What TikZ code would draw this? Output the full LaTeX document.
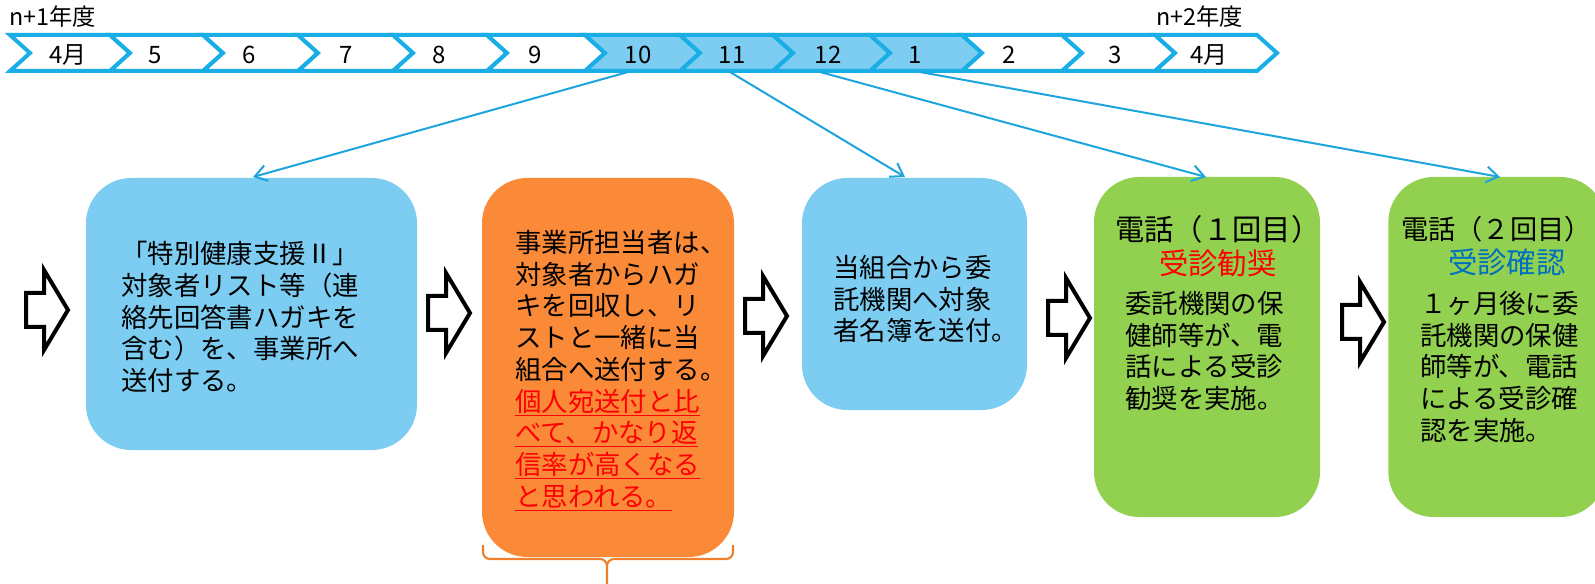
\documentclass[tikz,border=0pt]{standalone}
\usepackage{fontspec}
\setmainfont{Noto Sans CJK JP}
\usetikzlibrary{arrows.meta}
\definecolor{lineblue}{RGB}{25,175,230}
\definecolor{skyfill}{RGB}{124,205,241}
\definecolor{orangefill}{RGB}{250,138,55}
\definecolor{greenfill}{RGB}{146,208,80}
\definecolor{bracecol}{RGB}{238,128,45}
\definecolor{connblue}{RGB}{30,165,222}
\definecolor{textblue}{RGB}{0,112,192}
\newcommand\myblockarrow[2]{%
  \draw[blockarr] (#1,#2-17) -- (#1+18,#2-17) -- (#1+18,#2-40) -- (#1+42,#2)
    -- (#1+18,#2+40) -- (#1+18,#2+17) -- (#1,#2+17) -- cycle;}
\begin{document}
\begin{tikzpicture}[x=0.75pt,y=-0.75pt,
  chev/.style={draw=lineblue,line width=3pt,line join=miter},
  mon/.style={anchor=base,inner sep=0pt,font=\fontsize{18pt}{20pt}\selectfont},
  yearlbl/.style={anchor=base west,inner sep=0pt,font=\fontsize{17.5pt}{20pt}\selectfont},
  box/.style={rounded corners=34pt,inner sep=0pt,draw=none},
  body/.style={anchor=north west,inner sep=0pt,align=left,font=\fontsize{19.8pt}{23.8pt}\selectfont},
  title/.style={anchor=north west,inner sep=0pt,align=left,font=\fontsize{22pt}{25.5pt}\selectfont},
  blockarr/.style={draw=black,fill=white,line width=3pt,line join=miter},
  conn/.style={draw=connblue,line width=1.5pt,-{Straight Barb[length=9pt,width=12pt,line width=1.5pt]}},
  bracestyle/.style={draw=bracecol,line width=1.6pt}
]
\useasboundingbox (0,0) rectangle (1595,584);
\fill[white] (0,0) rectangle (1595,584);

% timeline chevrons
\foreach \a/\b/\f in {10/110/white,110/203/white,203/298/white,298/393/white,393/487/white,487/585/white,
  585/680/skyfill,680/773/skyfill,773/870/skyfill,870/962/skyfill,962/1062/white,1062/1155/white,1155/1257/white}
  \draw[chev,fill=\f] (\a,35) -- (\b,35) -- (\b+20,53) -- (\b,71) -- (\a,71) -- (\a+20,53) -- cycle;

\node[yearlbl] (y1) at (9,26) {n+1年度};
\node[yearlbl] (y2) at (1156,26) {n+2年度};

\node[mon] (m4) at (68,63.5) {4月};
\node[mon] (m5) at (155,63.5) {5};
\node[mon] (m6) at (249,63.5) {6};
\node[mon] (m7) at (346,63.5) {7};
\node[mon] (m8) at (439,63.5) {8};
\node[mon] (m9) at (535,63.5) {9};
\node[mon] (m10) at (638,63.5) {10};
\node[mon] (m11) at (732,63.5) {11};
\node[mon] (m12) at (828,63.5) {12};
\node[mon] (m1) at (915,63.5) {1};
\node[mon] (m2) at (1009,63.5) {2};
\node[mon] (m3) at (1115,63.5) {3};
\node[mon] (m4b) at (1209,63.5) {4月};

% boxes
\node[box,fill=skyfill,minimum width=248.25pt,minimum height=204pt] (b1) at (251.5,314) {};
\node[box,fill=orangefill,minimum width=189pt,minimum height=284.25pt] (b2) at (608,367.5) {};
\node[box,fill=skyfill,minimum width=168.75pt,minimum height=174pt] (b3) at (914.5,294) {};
\node[box,fill=greenfill,minimum width=169.5pt,minimum height=255pt] (b4) at (1207,347) {};
\node[box,fill=greenfill,minimum width=163pt,minimum height=255pt] (b5) at (1497,347) {};

% texts
\node[body] (t1) at (121,241) {「特別健康支援Ⅱ」\\対象者リスト等（連\\絡先回答書ハガキを\\含む）を、事業所へ\\送付する。};
\node[body] (t2) at (515,230) {事業所担当者は、\\対象者からハガ\\キを回収し、リ\\ストと一緒に当\\組合へ送付する。\\
  \textcolor{red}{\underline{個人宛送付と比}}\\\textcolor{red}{\underline{べて、かなり返}}\\\textcolor{red}{\underline{信率が高くなる}}\\\textcolor{red}{\underline{と思われる。}}};
\node[body] (t3) at (833,255) {当組合から委\\託機関へ対象\\者名簿を送付。};
\node[title] (h4) at (1115,215) {電話（１回目）\\\hspace*{1.5em}\textcolor{red}{受診勧奨}};
\node[body] (t4) at (1125,291) {委託機関の保\\健師等が、電\\話による受診\\勧奨を実施。};
\node[title] (h5) at (1401,216) {{\fontsize{20.4pt}{25.5pt}\selectfont 電話（２回目）}\\\hspace*{1.6em}\textcolor{textblue}{受診確認}};
\node[body] (t5) at (1420,291) {１ヶ月後に委\\託機関の保健\\師等が、電話\\による受診確\\認を実施。};

% block arrows
\myblockarrow{26}{310}
\myblockarrow{428}{313}
\myblockarrow{745}{316}
\myblockarrow{1048}{318}
\myblockarrow{1342}{322}

% brace under orange box
\coordinate (brl) at (483,545);
\coordinate (brr) at (733,545);
\coordinate (brtip) at (607,590);
\draw[bracestyle] (brl) -- (483,552) to[out=-90,in=180] (490,559) -- (600,559) to[out=0,in=90] (607,566) -- (brtip);
\draw[bracestyle] (brr) -- (733,552) to[out=-90,in=0] (726,559) -- (614,559) to[out=180,in=90] (607,566);

% connectors
\coordinate (s10) at (628,72);
\coordinate (s11) at (730,72);
\coordinate (s12) at (820,72);
\coordinate (s1) at (920,72);
\coordinate (e1) at (253,177);
\coordinate (e3) at (905,177);
\coordinate (e4) at (1206,177);
\coordinate (e5) at (1500,177);
\draw[conn] (s10) -- (e1);
\draw[conn] (s11) -- (e3);
\draw[conn] (s12) -- (e4);
\draw[conn] (s1) -- (e5);
\end{tikzpicture}
\end{document}
